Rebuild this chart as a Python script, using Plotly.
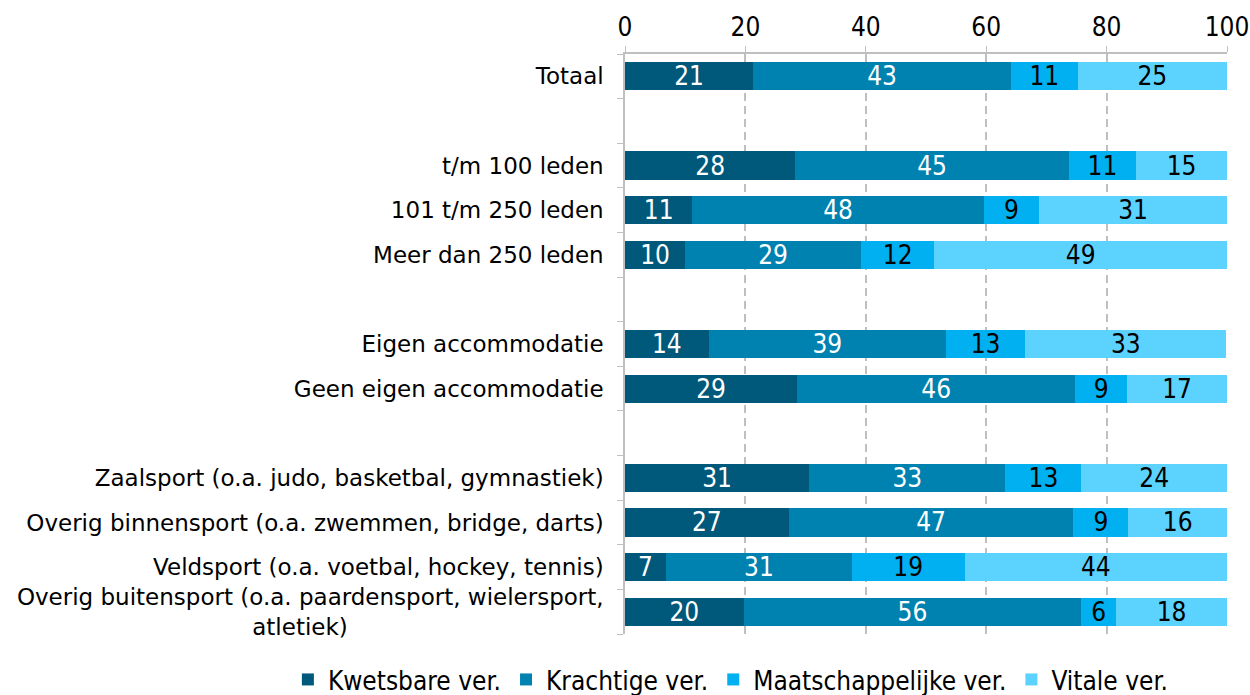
import plotly.graph_objects as go

categories = [
    "Totaal",
    "t/m 100 leden",
    "101 t/m 250 leden",
    "Meer dan 250 leden",
    "Eigen accommodatie",
    "Geen eigen accommodatie",
    "Zaalsport (o.a. judo, basketbal, gymnastiek)",
    "Overig binnensport (o.a. zwemmen, bridge, darts)",
    "Veldsport (o.a. voetbal, hockey, tennis)",
    "Overig buitensport (o.a. paardensport, wielersport,<br>atletiek)" + "\u00a0" * 35,
]
# row slot of each category (empty slots separate the groups)
row_slots = [0, 2, 3, 4, 6, 7, 9, 10, 11, 12]

series_names = ["Kwetsbare ver.", "Krachtige ver.", "Maatschappelijke ver.", "Vitale ver."]
kwetsbare = [21.3, 28.3, 11.2, 10.0, 13.9, 28.6, 30.6, 27.2, 6.8, 19.7]
krachtige = [42.8, 45.4, 48.4, 29.2, 39.4, 46.2, 32.6, 47.3, 30.9, 56.1]
maatschappelijke = [11.1, 11.2, 9.2, 12.2, 13.2, 8.6, 12.6, 9.1, 18.7, 5.8]
vitale = [24.8, 15.1, 31.2, 48.6, 33.4, 16.6, 24.2, 16.4, 43.6, 18.4]

x_ticks = [0, 20, 40, 60, 80, 100]

colors = ["#00587A", "#0082B1", "#00B0F0", "#5CD3FF"]
text_colors = ["white", "white", "black", "black"]

num_font = "DejaVu Sans Condensed, Liberation Sans Narrow, sans-serif"
lab_font = "DejaVu Sans, Verdana, sans-serif"

fig = go.Figure()
for name, vals, c, tc in zip(series_names, [kwetsbare, krachtige, maatschappelijke, vitale], colors, text_colors):
    fig.add_trace(go.Bar(
        y=row_slots, x=vals, name=name, orientation="h",
        marker=dict(color=c, line=dict(width=0)),
        text=vals, texttemplate="%{x:.0f}", textposition="inside",
        insidetextanchor="middle", textangle=0, constraintext="none",
        insidetextfont=dict(color=tc, size=26, family=num_font),
        hoverinfo="skip",
    ))

boundaries = [i + 0.5 for i in range(-1, 13)]

fig.update_layout(
    barmode="stack",
    bargap=0.37,
    width=1250, height=695,
    margin=dict(l=625, r=23, t=54, b=61, autoexpand=False),
    plot_bgcolor="white", paper_bgcolor="white",
    showlegend=True,
    legend=dict(orientation="h",
                x=-0.56, xanchor="left", y=-0.038, yanchor="top",
                font=dict(family=num_font, size=26, color="black"),
                traceorder="normal", itemwidth=30, tracegroupgap=0),
    xaxis=dict(side="top", range=[0, 100], tickvals=x_ticks,
               tickfont=dict(family=num_font, size=26, color="black"),
               showgrid=True, gridcolor="#BFBFBF", griddash="8px,5px", gridwidth=1.5,
               showline=True, linecolor="#BFBFBF", linewidth=1.5,
               ticks="outside", ticklen=6, tickcolor="#BFBFBF", zeroline=False,
               automargin=False),
    yaxis=dict(range=[12.5, -0.5], tickvals=row_slots, ticktext=categories,
               tickfont=dict(family=lab_font, size=23, color="black"),
               showgrid=False, zeroline=False,
               showline=True, linecolor="#BFBFBF", linewidth=1.5,
               ticks="", ticklabelstandoff=15, automargin=False,
               minor=dict(tickvals=boundaries, ticks="outside", ticklen=6, tickcolor="#BFBFBF", showgrid=False)),
)

fig.write_html("out.html", config={"displayModeBar": False},
               post_script="document.body.style.margin='0';")
